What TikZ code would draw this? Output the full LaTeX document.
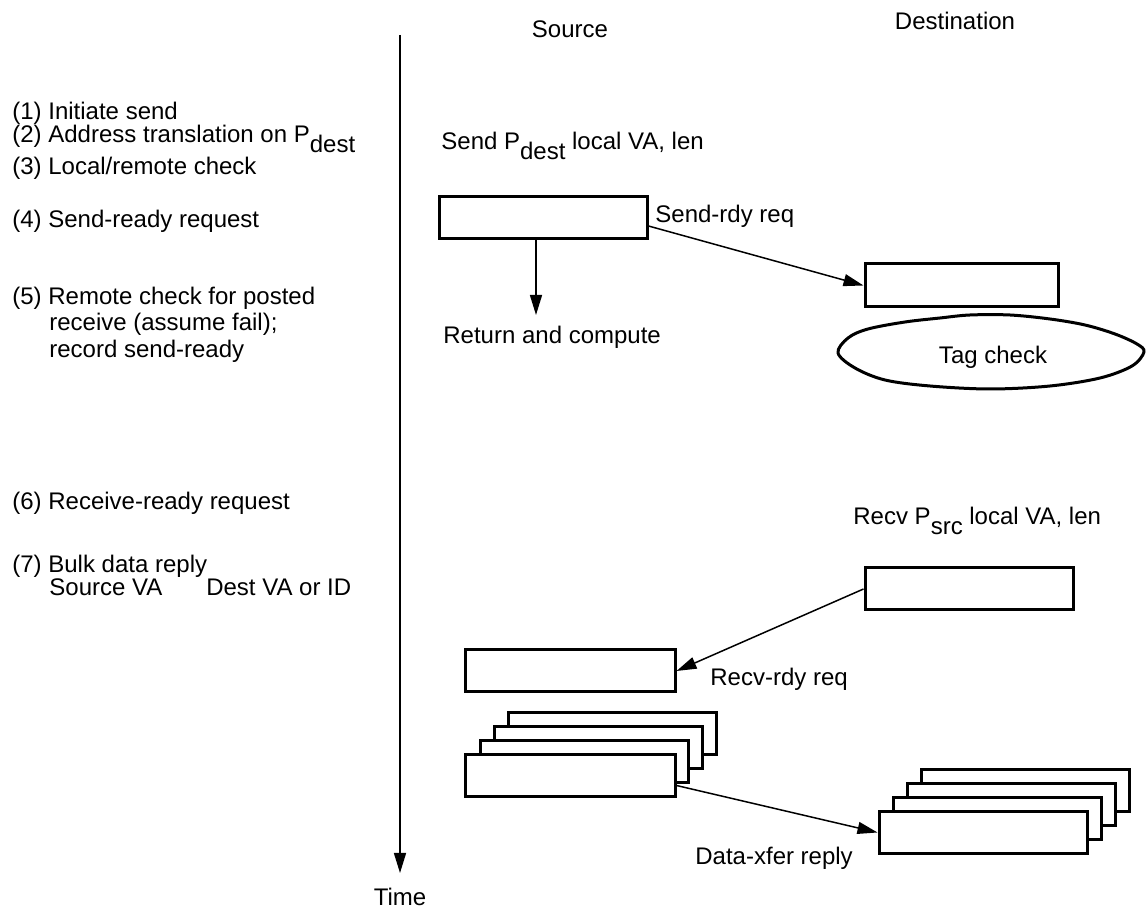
\documentclass[tikz,border=0pt]{standalone}
\usepackage{fontspec}
\setmainfont{Liberation Sans}
\usetikzlibrary{arrows.meta}
\newcommand{\lowsub}[1]{\raisebox{-5pt}{#1}}
\begin{document}
\begin{tikzpicture}[x=0.5pt,y=-0.5pt,
  txt/.style={font=\fontsize{12}{14}\selectfont, inner sep=0pt, anchor=base west},
  ctxt/.style={txt, anchor=base},
  box/.style={draw, line width=1.5pt, fill=white, inner sep=0pt,
              minimum width=104pt, minimum height=21pt},
  conn/.style={line width=0.75pt, -{Triangle[length=10pt,width=6pt]}}]
\useasboundingbox (0,0) rectangle (1147,908);

% column headers
\node[ctxt] (hsrc) at (570,38) {Source};
\node[ctxt] (hdst) at (955,30) {Destination};

% list of steps
\node[txt] (s1) at (12,120) {(1) Initiate send};
\node[txt] (s2) at (12,143) {(2) Address translation on P\lowsub{dest}};
\node[txt] (s3) at (12,175) {(3) Local/remote check};
\node[txt] (s4) at (12,228) {(4) Send-ready request};
\node[txt] (s5a) at (12,305) {(5) Remote check for posted};
\node[txt] (s5b) at (49,331) {receive (assume fail);};
\node[txt] (s5c) at (49,358) {record send-ready};
\node[txt] (s6) at (12,510) {(6) Receive-ready request};
\node[txt] (s7a) at (12,573) {(7) Bulk data reply};
\node[txt] (s7b) at (49,596) {Source VA\hspace{22pt}Dest VA or ID};

% time axis
\coordinate (ttop) at (400,35);
\coordinate (tend) at (400,873);
\draw[conn] (ttop) -- (tend);
\node[ctxt] (time) at (400,906) {Time};

% send side
\node[txt] (sendlbl) at (441,150) {Send P\lowsub{dest} local VA, len};
\node[box] (send) at (543,218) {};
\coordinate (ret) at (536,315);
\draw[conn] (send.south -| ret) -- (ret);
\node[txt] (retlbl) at (443,344) {Return and compute};
\node[txt] (sendrdy) at (655,223) {Send-rdy req};

% destination: tag check
\node[box, minimum width=96.5pt, minimum height=21.5pt] (dest) at (961.5,285.5) {};
\draw[conn] ([yshift=-4pt]send.east) -- (dest.west);
\draw[line width=1.5pt, line join=round] plot[smooth cycle, tension=0.55] coordinates {
  (838,353) (848,338) (868,329) (905,322) (940,318) (970,315) (1010,315)
  (1050,319) (1085,325) (1115,334) (1137,344) (1144,352) (1132,366)
  (1100,378) (1050,386) (990,389) (930,386) (885,380) (855,368)};
\node[ctxt] (tag) at (993,364) {Tag check};

% receive side
\node[txt] (recvlbl) at (853,525) {Recv P\lowsub{src} local VA, len};
\node[box] (recv) at (969,589) {};
\node[box, minimum width=105pt] (rrdy) at (570,671) {};
\draw[conn] (recv.west) -- (rrdy.east);
\node[txt] (rrdylbl) at (710,686) {Recv-rdy req};

% bulk transfer packets
\node[box] (sb3) at (612,733.5) {};
\node[box] (sb2) at (598,747.5) {};
\node[box] (sb1) at (584,761.5) {};
\node[box, minimum width=105pt] (sfront) at (570,775.5) {};
\node[box] (db3) at (1025,790.5) {};
\node[box] (db2) at (1011,804.5) {};
\node[box] (db1) at (997,818.5) {};
\node[box] (dfront) at (983,832.5) {};
\draw[conn] ([yshift=-5pt]sfront.east) -- (dfront.west);
\node[txt] (xfer) at (695,865) {Data-xfer reply};
\end{tikzpicture}
\end{document}
